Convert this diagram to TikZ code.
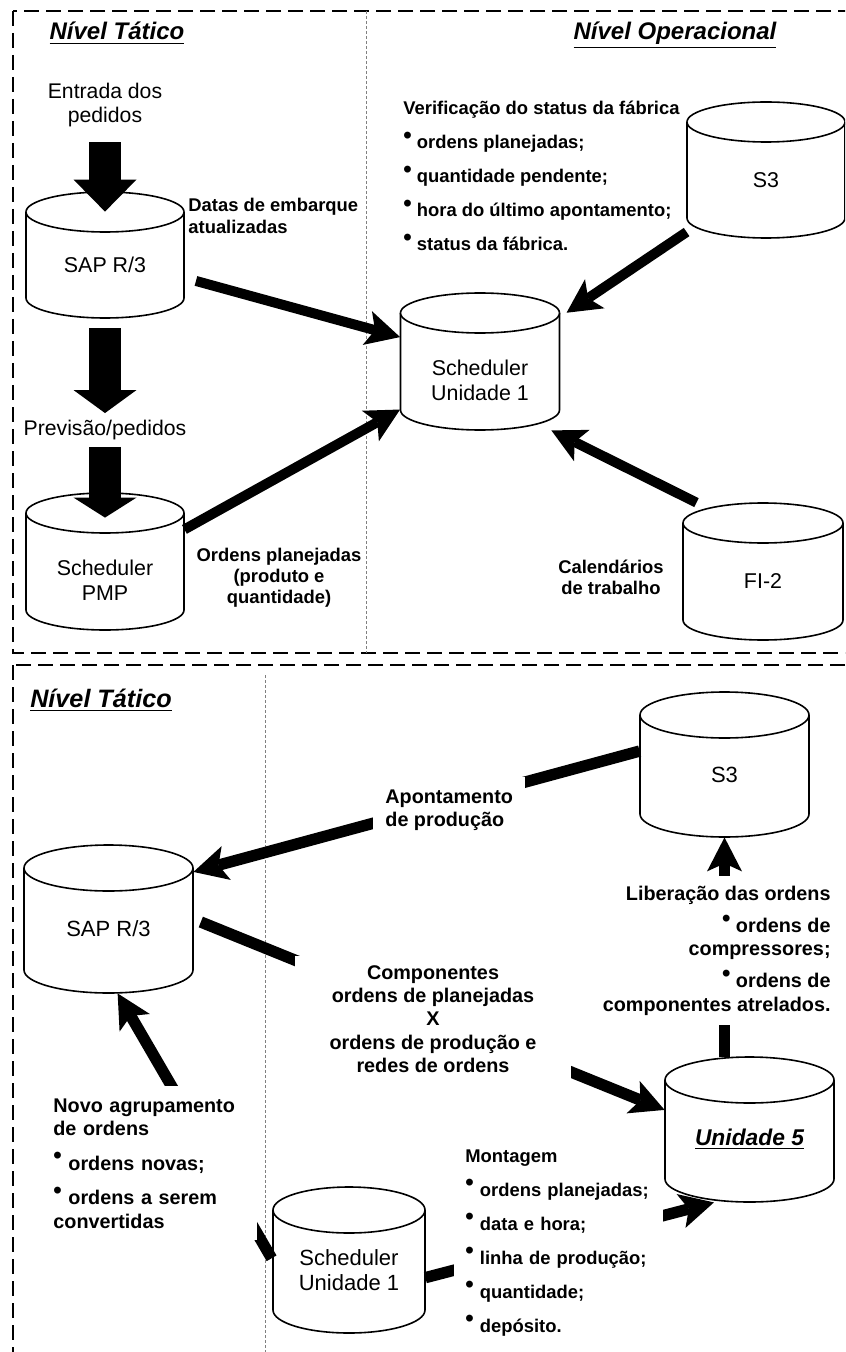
\documentclass[tikz,border=0pt]{standalone}
\usepackage{fontspec}
\setmainfont{Liberation Sans}
\usepackage{tikz}
\usetikzlibrary{
    calc,
    arrows.meta
}
\newcommand{\bul}{\raisebox{0.6ex}{\large\textbullet}\ }
\newcommand{\cilry}{20}
% [rotulo] nome, x, y, largura, altura, texto (px)
\newcommand{\cilindro}[7][]{%
  \pgfmathsetmacro\cilrx{#5/2}%
  \pgfmathsetmacro\ciltop{#4-#6/2+\cilry}%
  \pgfmathsetmacro\cilbot{#4+#6/2-\cilry}%
  \filldraw[banco] (#3-\cilrx,\ciltop) -- (#3-\cilrx,\cilbot)
      arc[start angle=180, end angle=360, x radius=\cilrx*0.5pt, y radius=\cilry*0.5pt]
      -- (#3+\cilrx,\ciltop)
      arc[start angle=0, end angle=180, x radius=\cilrx*0.5pt, y radius=\cilry*0.5pt] -- cycle;
  \draw[banco] (#3-\cilrx,\ciltop)
      arc[start angle=180, end angle=360, x radius=\cilrx*0.5pt, y radius=\cilry*0.5pt];
  \node[caixa, minimum width=#5*0.5pt, minimum height=#6*0.5pt,
        label={[rotulo, name=#2t, #1]center:#7}] (#2) at (#3,#4) {};%
}
\tikzset{
    moldura/.style={line width=1pt, dash pattern=on 7.5pt off 3.5pt},
    divisa/.style={line width=0.4pt, gray, dash pattern=on 1.5pt off 1pt},
    banco/.style={fill=white, line width=0.8pt, line join=round},
    caixa/.style={rectangle, inner sep=0pt},
    rotulo/.style={align=center, yshift=-5pt, inner sep=0pt, font=\fontsize{10.7}{12.3}\selectfont},
    rotuloL/.style={font=\fontsize{11}{12.7}\selectfont},
    texto/.style={font=\fontsize{10.6}{12.2}\selectfont},
    titulo/.style={font=\fontsize{12}{14}\selectfont\bfseries\itshape},
    info/.style={font=\fontsize{9.2}{10.6}\selectfont\bfseries, inner sep=0pt},
    infoL/.style={font=\fontsize{9.9}{11.6}\selectfont\bfseries, inner sep=6pt},
    cobre/.style={fill=white},
    grossa/.style={line width=16pt, -{Triangle[length=#1, width=31.5pt, line width=0pt]}},
    grossa/.default=12pt,
    seta/.style={line width=5pt, -{Stealth[length=17pt, width=17.5pt, inset=4pt, line width=0pt]}},
    setaL/.style={line width=5.7pt, -{Stealth[length=17pt, width=17.5pt, inset=4pt, line width=0pt]}}
}

\begin{document}
\begin{tikzpicture}[x=0.5pt, y=-0.5pt]
\useasboundingbox (0,0) rectangle (845,1352);
\clip (0,0) rectangle (845,1352);

%% molduras
\draw[moldura] (13,11) rectangle (880,653);
\draw[moldura] (13,665) rectangle (880,1380);
\draw[divisa] (366,11) -- (366,653);
\draw[divisa] (265,675) -- (265,1352);

%% nivel tatico / operacional
\node[titulo, anchor=base] (titA) at (117,40) {\underline{Nível Tático}};
\node[titulo, anchor=base] (titB) at (675,40) {\underline{Nível Operacional}};

\cilindro{sapA}{105}{255}{158}{126}{SAP R/3}
\cilindro[yshift=-4.5pt]{pmp}{105}{561.5}{158}{137}{Scheduler\\PMP}
\cilindro[yshift=-4.5pt]{unA}{480}{361.5}{159}{137}{Scheduler\\Unidade 1}
\cilindro{s3A}{766}{170}{158}{136}{S3}
\cilindro{fi2}{763}{571.5}{160}{137}{FI-2}

\node[texto, align=center] (entrada) at (105,105) {Entrada dos\\pedidos};
\node[texto] (previsao) at (105,430) {Previsão/pedidos};

\draw[grossa=16pt, shorten <=4pt, shorten >=-10pt] (entrada) -- (sapA);
\draw[grossa=11.5pt, shorten <=5pt] (sapA) -- (previsao);
\draw[grossa=10pt, shorten >=-12.5pt] (previsao) -- (pmp);

\draw[seta, shorten <=6pt] (sapA.-16) -- (unA.163);
\draw[seta] (pmp.22) -- (unA.-149);
\draw[seta, shorten >=4pt] (s3A.-142) -- (unA.29);
\draw[seta] (fi2.134) -- (unA.-44);

\node[info, anchor=west, align=left] (datas) at (188,216) {Datas de embarque\\atualizadas};
\node[info, align=center] (ordens) at (279,578) {Ordens planejadas\\(produto e\\quantidade)};
\node[info, anchor=north west, align=left] (verif) at (403,101)
    {Verificação do status da fábrica\\[6.4pt]
     \bul ordens planejadas;\\[6.4pt]
     \bul quantidade pendente;\\[6.4pt]
     \bul hora do último apontamento;\\[6.4pt]
     \bul status da fábrica.};
\node[info, align=center] (calend) at (611,577) {Calendários\\de trabalho};

%% segundo quadro
\node[titulo, anchor=base, font=\fontsize{12.6}{14}\selectfont\bfseries\itshape] (titC) at (101,707) {\underline{Nível Tático}};

\renewcommand{\cilry}{23}
\cilindro[rotuloL]{s3B}{724.5}{764.5}{169}{145}{S3}
\cilindro[rotuloL]{sapB}{108.5}{919}{169}{148}{SAP R/3}
\cilindro[rotuloL, font=\fontsize{11.4}{13}\selectfont\bfseries\itshape]{un5}{749.5}{1129.5}{169}{145}{\underline{Unidade 5}}
\cilindro[rotuloL]{unB}{349}{1260}{152}{146}{Scheduler\\Unidade 1}

\draw[setaL] (s3B.171) -- (sapB.29);
\draw[setaL, shorten <=4pt] (sapB.east) -- (un5.167);
\draw[setaL] (un5.north -| s3B.south) -- (s3B.south);
\draw[setaL, shorten <=1pt] (unB.west) -- (sapB.-83);
\draw[setaL] (unB.-13) -- (un5.-116);

\node[infoL, cobre, anchor=north west, align=left] (apont) at (373,777) {Apontamento\\de produção};
\node[infoL, cobre, inner xsep=0pt, inner ysep=5pt, minimum width=138pt, align=center] (compon) at (433,1019)
    {Componentes\\ordens de planejadas\\X\\ordens de produção e\\redes de ordens};
\node[infoL, cobre, inner sep=5pt, anchor=north east, align=right] (liber) at (841,876)
    {Liberação das ordens\\[4.4pt]
     \bul ordens de\\compressores;\\[4.4pt]
     \bul ordens de\\componentes atrelados.};
\node[infoL, cobre, anchor=north west, text width=96pt, align=left] (novo) at (41,1086)
    {Novo agrupamento\\de ordens\\[5.8pt]
     \bul ordens novas;\\[5.8pt]
     \bul ordens a serem\\convertidas};
\node[info, cobre, inner xsep=5.5pt, inner ysep=6.5pt, anchor=north west, text width=93.5pt, align=left] (montag) at (454,1136)
    {Montagem\\[6.4pt]
     \bul ordens planejadas;\\[6.4pt]
     \bul data e hora;\\[6.4pt]
     \bul linha de produção;\\[6.4pt]
     \bul quantidade;\\[6.4pt]
     \bul depósito.};
\end{tikzpicture}
\end{document}
